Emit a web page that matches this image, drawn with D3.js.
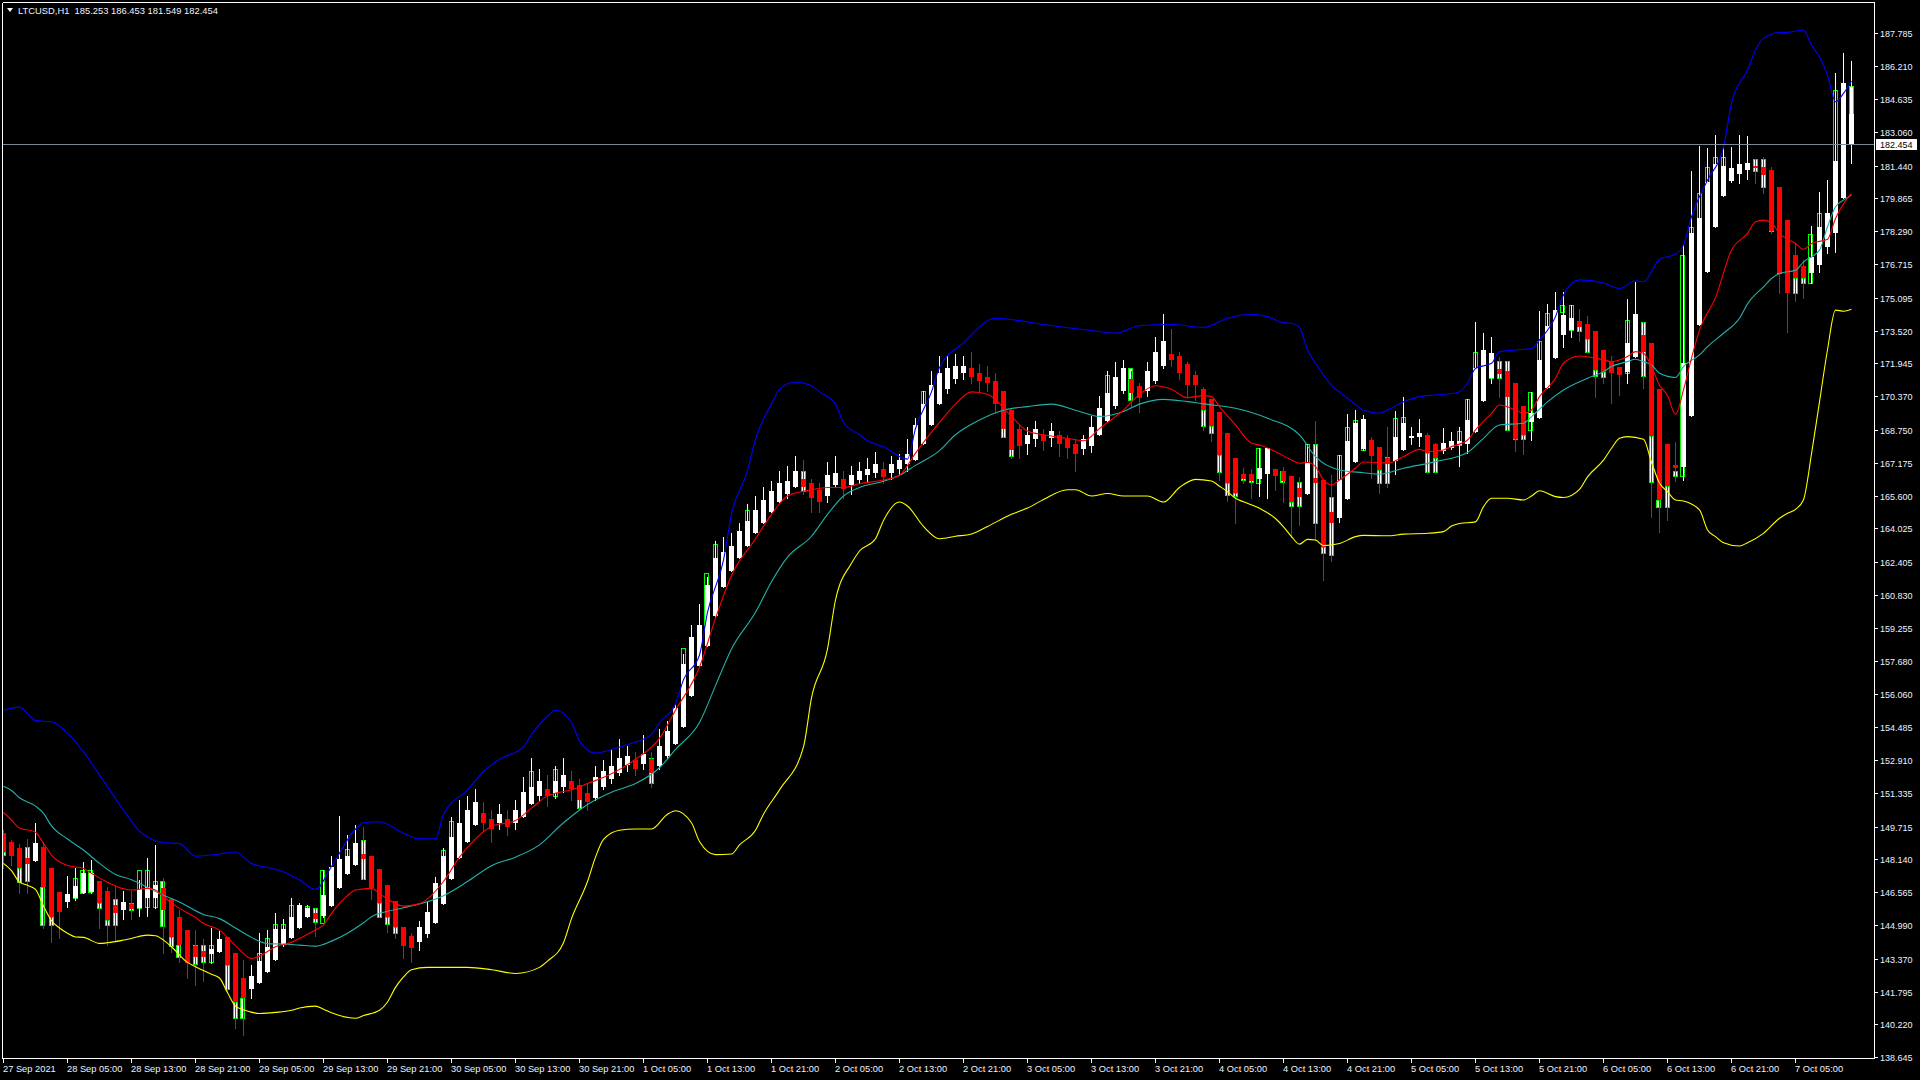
<!DOCTYPE html>
<html><head><meta charset="utf-8">
<script src="https://cdn.jsdelivr.net/npm/d3@7/dist/d3.min.js"></script>
<style>html,body{margin:0;padding:0;background:#000;overflow:hidden}</style>
</head><body>
<svg id="c" width="1920" height="1080" xmlns="http://www.w3.org/2000/svg"></svg>
<script>
// ---------- DATA ----------
const symbolTitle = "LTCUSD,H1";
const lastBarValues = ["185.253", "186.453", "181.549", "182.454"];
const currentPrice = 182.454;

const yTickLabels = [187.785,186.210,184.635,183.060,181.440,179.865,178.290,176.715,175.095,173.520,171.945,170.370,168.750,167.175,165.600,164.025,162.405,160.830,159.255,157.680,156.060,154.485,152.910,151.335,149.715,148.140,146.565,144.990,143.370,141.795,140.220,138.645];

const xTickLabels = ["27 Sep 2021","28 Sep 05:00","28 Sep 13:00","28 Sep 21:00","29 Sep 05:00","29 Sep 13:00","29 Sep 21:00","30 Sep 05:00","30 Sep 13:00","30 Sep 21:00","1 Oct 05:00","1 Oct 13:00","1 Oct 21:00","2 Oct 05:00","2 Oct 13:00","2 Oct 21:00","3 Oct 05:00","3 Oct 13:00","3 Oct 21:00","4 Oct 05:00","4 Oct 13:00","4 Oct 21:00","5 Oct 05:00","5 Oct 13:00","5 Oct 21:00","6 Oct 05:00","6 Oct 13:00","6 Oct 21:00","7 Oct 05:00"];

// Heiken Ashi bars: [open, high, low, close], one per hour (bar 0 = 27 Sep 21:00)
const haOHLC = [
[149.39,149.55,147.71,148.51],[148.99,149.07,147.87,148.30],[148.69,148.88,146.54,147.71],[148.22,149.10,146.54,147.92],
[148.08,149.87,148.08,148.94],[148.75,148.99,144.83,146.83],[147.73,147.73,144.19,145.36],[146.57,146.57,144.38,145.63],
[146.09,147.34,145.87,146.48],[146.27,147.71,146.19,146.86],[146.54,148.03,146.51,147.50],[146.59,148.11,146.51,147.50],
[147.10,147.10,144.86,146.03],[146.62,146.83,144.03,145.23],[145.93,146.86,144.27,145.55],[145.71,146.64,145.28,146.11],
[146.00,146.62,145.26,145.74],[145.82,147.15,145.42,146.70],[146.30,148.19,145.42,146.80],[146.30,148.83,145.79,146.91],
[146.78,147.26,143.63,145.71],[146.22,146.22,143.71,144.43],[145.39,145.71,143.23,144.03],[144.75,144.75,142.46,143.18],
[144.00,144.75,142.11,143.47],[143.77,144.30,142.32,143.44],[143.60,144.86,143.15,143.82],[143.69,144.70,143.69,144.32],
[144.43,144.43,141.71,143.07],[143.63,143.63,140.03,141.31],[142.45,143.31,139.71,141.47],[141.92,143.07,141.47,142.54],
[142.22,144.59,142.22,143.26],[142.75,144.75,142.75,143.95],[143.31,145.58,143.31,144.80],[144.03,145.26,144.00,144.81],
[144.38,146.27,144.38,145.39],[144.86,146.06,144.86,145.93],[145.39,145.95,145.39,145.81],[145.58,145.81,144.48,145.26],
[145.42,147.63,145.39,146.43],[145.90,148.30,145.90,147.76],[146.77,150.24,146.77,148.16],[147.45,149.31,147.45,148.30],
[147.87,149.79,147.87,148.94],[148.40,149.71,147.20,148.14],[148.30,148.30,146.22,146.75],[147.68,147.68,145.39,146.06],
[146.91,146.91,144.67,145.39],[146.14,146.14,144.38,144.91],
[144.90,144.90,143.40,144.00],[144.45,144.60,143.20,143.90],[144.20,145.20,143.80,144.90],[144.55,146.10,144.40,145.60],
[145.10,147.30,145.10,147.00],[146.00,148.70,146.00,148.30],[147.20,150.20,147.20,149.20],[148.20,151.00,148.20,149.90],
[149.00,151.20,149.00,150.50],[149.80,151.50,149.80,150.90],[150.35,150.90,149.50,149.90],[150.10,150.50,149.00,149.60],
[149.90,150.80,149.60,150.30],[150.10,150.50,149.30,149.70],[149.90,151.00,149.60,150.50],[150.20,152.10,150.20,151.40],
[150.80,153.00,150.80,151.60],[151.20,152.50,151.00,151.90],[151.50,152.20,150.70,151.20],[151.35,152.60,151.10,151.90],
[151.60,153.00,151.40,152.20],[151.90,152.40,151.00,151.50],[151.70,152.00,150.50,151.00],[151.35,151.80,150.50,150.90],
[151.10,152.60,151.00,152.10],[151.60,152.90,151.50,152.40],[152.00,153.40,151.80,152.60],[152.30,153.90,152.20,153.00],
[152.65,153.60,152.40,153.10],[152.90,153.30,152.20,152.50],[152.70,154.10,152.50,153.20],[152.95,153.30,151.60,152.30],
[152.60,154.40,152.50,153.60],[153.10,154.80,153.00,154.30],[153.70,155.60,153.70,155.40],[154.50,158.00,154.50,157.50],
[156.00,159.40,156.00,158.80],[157.40,160.40,157.40,159.40],[158.40,161.70,158.40,161.30],[159.80,163.40,159.80,162.60],
[161.20,163.60,161.20,162.90],[162.00,163.80,162.00,163.20],[162.60,164.30,162.60,163.90],[163.20,165.20,163.20,164.40],
[163.80,165.60,163.80,164.90],[164.30,166.00,164.30,165.40],[164.80,166.30,164.80,165.80],[165.30,166.80,165.30,166.20],
[165.70,167.00,165.50,166.30],[166.00,167.50,166.00,166.80],[166.40,167.30,165.70,166.00],[166.20,166.40,164.80,165.50],
[165.85,166.20,164.80,165.30],[165.60,167.20,165.30,166.60],[166.10,167.50,166.00,166.70],[166.40,166.80,165.50,165.90],
[166.10,167.00,165.70,166.60],[166.35,167.20,166.20,166.80],[166.60,167.40,166.30,166.90],[166.70,167.70,166.50,167.10],
[166.90,167.20,166.20,166.50],[166.70,167.50,166.40,167.10],[166.90,167.60,166.60,167.30],[167.10,168.30,166.80,167.60],
[167.30,169.30,167.30,169.00],[168.10,170.60,168.10,170.00],[169.00,171.60,169.00,170.90],[170.00,172.30,170.00,171.50],
[170.70,172.30,170.50,171.70],[171.20,172.40,171.00,171.80],[171.50,172.30,171.20,171.80],[171.70,172.50,171.00,171.30],
[171.50,171.90,170.60,171.10],[171.30,171.80,170.60,171.00],[171.10,171.50,169.60,170.00],[170.60,170.60,168.40,168.80],
[169.70,169.80,167.40,167.80],[168.80,169.00,167.40,168.00],[168.10,168.90,167.60,168.50],[168.30,169.20,168.00,168.80],
[168.50,168.80,167.80,168.20],[168.35,169.10,168.00,168.70],[168.50,168.70,167.50,168.10],[168.30,168.50,167.40,167.90],
[168.10,168.30,166.80,167.60],[167.85,168.50,167.60,168.30],[168.00,169.40,167.70,168.90],[168.50,170.40,168.50,169.80],
[169.20,171.60,169.20,170.50],[169.90,172.00,169.80,171.30],[170.60,172.10,170.50,171.70],[171.20,171.60,169.90,170.50],
[170.85,171.00,169.60,170.30],[170.60,172.00,170.40,171.60],[171.10,173.20,171.00,172.50],[171.80,174.30,171.70,173.00],
[172.40,173.60,171.80,172.10],[172.30,172.50,171.20,171.50],[171.90,172.00,170.40,170.90],[171.40,171.60,170.20,170.90],
[170.70,170.83,168.75,169.71],[170.23,170.23,168.23,168.94],[169.61,169.61,166.35,167.55],[168.60,168.60,165.35,166.22],
[167.40,167.40,164.30,165.71],[166.63,166.91,166.19,166.38],[166.63,166.87,165.50,166.30],[166.38,167.87,165.58,166.92],
[166.66,167.87,165.50,167.87],[166.87,166.87,165.87,166.55],[166.76,166.99,165.31,166.30],[166.54,166.54,163.63,165.27],
[165.98,166.51,164.19,165.51],[165.67,168.07,165.67,167.15],[166.44,169.18,163.47,166.19],[166.35,166.35,161.54,163.14],
[164.79,166.58,162.47,164.27],[164.54,167.55,164.35,166.35],[165.43,169.50,165.43,168.23],[167.23,169.71,167.23,169.07],
[167.83,169.47,167.79,169.26],[168.26,168.43,166.46,167.51],[167.91,167.95,165.74,166.83],[167.39,168.90,166.03,167.11],
[167.27,169.66,166.63,168.43],[167.79,170.35,167.79,169.10],[168.38,168.90,168.07,168.46],[168.43,169.26,167.98,168.62],
[168.50,168.59,166.75,167.63],[168.07,168.11,166.75,167.40],[167.74,168.83,167.66,168.14],[167.88,168.66,167.83,168.22],
[168.03,168.90,167.02,168.22],[168.07,170.22,167.63,169.23],[168.66,173.94,168.66,171.71],[170.14,173.42,170.14,172.59],
[171.23,173.19,170.99,172.43],[171.67,172.23,170.35,171.43],[171.58,172.06,168.75,170.35],[170.99,170.99,167.75,168.30],
[169.90,169.90,167.59,168.49],[169.14,170.55,168.26,169.58],[169.34,174.46,169.34,172.11],[170.74,174.78,170.74,173.74],
[172.22,175.37,172.22,174.51],[173.30,175.37,172.75,174.27],[173.55,174.75,173.23,174.11],[173.98,174.54,173.03,173.70],
[173.83,174.22,172.47,173.10],[173.50,173.50,170.35,171.63],[172.58,172.58,170.99,171.55],[172.06,172.30,170.06,171.50],
[171.76,171.76,170.43,171.39],[171.55,175.02,171.00,172.92],[172.25,175.87,172.25,174.31],[173.31,173.94,170.75,172.50],
[172.94,172.94,164.59,168.46],[170.71,170.71,163.87,165.39],[168.08,168.08,164.43,166.07],[167.07,168.19,166.30,166.94],
[166.99,177.67,166.35,171.98],[169.42,181.19,169.42,178.19],[173.78,182.38,173.78,178.91],[176.34,182.30,176.34,180.63],
[178.50,182.90,178.50,181.51],[179.99,182.30,179.99,181.43],[180.70,182.34,180.63,181.32],[181.02,182.90,180.61,181.51],
[181.22,182.86,180.81,181.57],[181.43,181.74,180.61,181.33],[181.38,181.86,180.13,180.98],[181.22,181.38,178.19,178.31],
[180.42,180.42,175.34,176.27],[178.83,178.83,173.46,175.34],[177.15,177.70,174.95,176.06],[176.62,176.90,175.07,176.03],
[176.27,178.54,175.82,177.04],[176.66,180.15,176.34,178.47],[177.54,180.75,177.26,179.15],[178.22,185.86,177.30,181.67],
[179.90,186.83,179.90,185.41],[182.47,186.45,181.55,183.91]
];

// Price candle bodies visible behind the Heiken Ashi bars: [bar, open, close]
const priceBodies = [
[0,148.51,148.35],[2,147.71,147.04],[3,148.75,147.12],[5,146.83,144.99],[6,145.36,144.99],[9,146.27,147.23],
[10,146.54,147.63],[11,146.59,147.63],[12,146.03,145.82],[13,145.23,144.99],[14,146.24,144.99],[16,146.03,145.71],
[17,145.82,147.63],[18,145.84,147.63],[19,145.84,147.10],[20,147.10,144.96],[21,144.43,144.00],[22,144.03,143.44],
[24,144.03,143.12],[25,144.03,143.20],[26,143.20,144.03],[28,143.07,141.90],[29,141.31,140.51],[30,141.47,140.51],
[32,143.26,143.63],[33,143.95,144.35],[34,144.80,145.04],[35,144.81,145.04],[36,145.39,145.95],[38,145.81,145.90],
[39,145.81,145.15],[40,145.10,147.63],[43,148.30,148.64],[45,149.07,147.20],[47,146.06,145.39],[48,145.39,145.04],
[49,144.91,144.62],
[55,147.00,148.60],[56,148.30,150.00],[66,151.40,152.40],[69,151.20,152.50],[72,151.50,150.60],[81,153.00,151.80],
[85,155.40,158.30],[88,159.40,161.90],[89,161.30,163.30],[93,163.90,164.90],[100,166.80,165.80],[115,169.00,170.60],
[125,170.00,168.40],[126,168.80,167.50],[138,169.80,171.40],[141,171.70,170.20],
[150,169.71,168.95],[151,168.94,168.62],[152,167.55,166.71],[153,166.22,165.63],[154,165.71,165.59],[155,166.66,166.35],
[156,166.66,166.23],[157,166.19,167.87],[160,166.76,166.27],[161,165.27,165.10],[162,166.23,165.10],[163,167.15,168.07],
[164,168.07,164.30],[165,163.14,162.86],[166,165.51,162.76],[167,166.35,167.55],[168,168.23,168.87],[169,169.07,169.23],
[170,167.79,169.26],[172,166.83,166.19],[173,167.47,166.19],[174,168.43,169.30],[175,169.10,169.35],[178,167.63,166.75],
[179,167.40,166.75],[182,168.03,168.70],[183,169.23,170.22],[184,171.71,172.47],[186,171.23,172.43],[187,172.06,171.23],
[188,172.06,168.75],[189,168.75,168.30],[190,168.49,168.33],[191,168.75,170.55],[192,172.11,173.02],[193,173.74,174.35],
[195,174.43,174.75],[196,173.55,174.75],[197,173.98,173.51],[198,173.10,172.47],[199,171.63,171.34],[200,171.55,171.30],
[203,171.48,174.03],[205,173.94,171.35],[206,168.46,166.27],[207,165.39,165.05],[208,166.07,165.05],[209,166.78,166.55],
[210,166.55,177.15],[211,178.19,178.47],[212,178.91,180.11],[213,180.63,181.38],[214,181.51,181.86],[215,181.43,181.86],
[219,181.74,181.19],[220,181.74,180.39],[221,179.54,178.31],[222,177.23,176.27],[224,176.06,175.34],[225,176.03,175.82],
[226,175.82,178.15],[227,178.47,179.18],[229,181.67,185.06],[231,185.253,182.454]
];

// Bollinger upper band (blue): [bar, value]
const upperBand = [[0,155.30],[2,155.45],[4,154.80],[6,154.75],[8,154.20],[10,153.30],[12,152.20],[15,150.50],[17,149.50],[20,148.95],[22,148.90],[24,148.30],[27,148.40],[29,148.50],[31,147.95],[33,147.75],[35,147.55],[37,147.15],[39,146.70],[41,147.80],[44,149.60],[45,149.90],[47,149.95],[50,149.40],[52,149.13],[54,149.13],[55,150.30],[58,151.48],[60,152.36],[62,152.95],[65,153.54],[66,154.13],[68,155.01],[69,155.30],[71,154.71],[72,153.83],[74,153.24],[76,153.42],[78,153.66],[81,154.13],[82,154.71],[84,155.60],[85,156.77],[87,157.95],[88,160.00],[90,162.50],[91,164.70],[93,166.80],[94,168.30],[96,170.00],[97,170.70],[99,171.05],[101,170.87],[102,170.58],[104,169.99],[105,169.11],[107,168.52],[108,168.23],[110,167.94],[113,167.35],[114,168.82],[116,170.58],[117,171.75],[120,172.93],[124,174.11],[130,173.81],[136,173.52],[139,173.40],[142,173.75],[146,173.81],[150,173.67],[153,174.11],[156,174.30],[158,174.19],[160,173.90],[161,173.87],[162,173.67],[163,172.59],[164,171.95],[166,170.90],[168,170.27],[170,169.71],[172,169.55],[173,169.71],[175,170.10],[177,170.35],[179,170.43],[181,170.50],[182,170.58],[183,170.99],[184,171.70],[186,171.95],[187,172.50],[189,172.59],[191,172.66],[192,173.07],[194,174.19],[195,175.23],[197,175.95],[200,175.80],[202,175.54],[204,175.91],[205,175.86],[207,176.94],[209,177.19],[210,177.62],[211,178.98],[213,180.74],[215,182.34],[216,184.42],[218,186.02],[219,186.98],[220,187.54],[222,187.82],[223,187.83],[225,187.94],[226,187.22],[227,186.66],[228,185.78],[229,184.50],[230,184.90],[231,185.50]];

// Bollinger lower band (yellow)
const lowerBand = [[0,147.95],[1,147.60],[2,147.05],[3,146.90],[4,146.70],[5,145.90],[6,145.20],[7,144.85],[8,144.60],[9,144.42],[10,144.40],[12,144.11],[13,144.14],[15,144.27],[16,144.35],[18,144.51],[19,144.48],[20,144.27],[21,143.95],[23,143.20],[24,142.99],[26,142.63],[27,142.45],[28,141.75],[29,141.10],[30,140.93],[32,140.75],[34,140.80],[36,140.90],[37,141.01],[39,141.10],[40,140.95],[41,140.78],[44,140.52],[45,140.65],[47,140.90],[48,141.30],[49,142.00],[50,142.50],[51,142.85],[53,142.96],[58,142.96],[61,142.85],[64,142.67],[67,142.96],[68,143.26],[70,144.14],[71,145.30],[73,147.08],[74,148.25],[75,149.10],[77,149.54],[79,149.60],[81,149.60],[83,150.31],[84,150.48],[86,149.90],[87,149.00],[89,148.37],[91,148.40],[92,148.84],[94,149.54],[95,150.31],[97,151.48],[100,153.54],[101,155.89],[103,158.24],[104,160.59],[106,162.35],[107,162.94],[109,163.53],[110,164.41],[112,165.29],[113,165.10],[115,164.12],[117,163.53],[119,163.65],[121,163.76],[123,164.12],[126,164.70],[128,165.00],[130,165.41],[133,165.88],[134,165.88],[136,165.58],[138,165.70],[140,165.58],[143,165.58],[145,165.29],[147,165.99],[149,166.38],[151,166.30],[152,166.05],[153,165.79],[154,165.47],[155,165.30],[157,164.99],[159,164.50],[160,164.10],[161,163.63],[162,163.27],[163,163.50],[164,163.47],[165,163.20],[167,163.30],[169,163.63],[170,163.69],[173,163.67],[175,163.75],[178,163.79],[180,163.87],[181,164.14],[182,164.26],[184,164.34],[185,165.07],[186,165.47],[188,165.47],[190,165.39],[191,165.58],[192,165.83],[194,165.55],[195,165.51],[197,165.90],[198,166.50],[200,167.30],[201,167.87],[202,168.35],[203,168.43],[205,168.30],[206,167.20],[207,166.20],[208,165.79],[209,165.39],[210,165.34],[212,164.91],[213,163.95],[214,163.63],[215,163.34],[217,163.18],[218,163.34],[220,163.79],[222,164.51],[223,164.75],[224,164.94],[225,165.40],[226,167.60],[227,170.10],[228,172.60],[229,174.50],[230,174.45],[231,174.54]];

// Bollinger middle band (teal)
const middleBand = [[0,151.65],[1,151.45],[2,151.10],[4,150.70],[5,150.35],[6,149.75],[8,149.12],[10,148.59],[12,147.95],[14,147.42],[16,147.17],[18,146.80],[20,146.42],[22,146.10],[25,145.50],[27,145.30],[29,144.85],[31,144.40],[33,144.10],[35,144.08],[37,144.03],[39,143.98],[41,144.22],[43,144.60],[45,145.10],[46,145.39],[48,145.65],[50,145.82],[55,146.40],[58,147.08],[61,147.84],[64,148.25],[67,148.84],[70,149.90],[73,150.78],[76,151.37],[79,151.78],[82,152.54],[84,153.42],[87,154.71],[89,156.48],[91,158.24],[94,160.00],[96,161.47],[98,162.65],[101,163.65],[103,164.70],[105,165.58],[107,165.99],[110,166.29],[112,166.58],[114,167.05],[117,167.76],[119,168.52],[122,169.23],[125,169.70],[128,169.87],[131,169.99],[134,169.70],[137,169.40],[140,169.64],[142,169.99],[145,170.22],[148,170.11],[150,170.00],[154,169.79],[158,169.31],[162,168.51],[164,167.47],[167,166.83],[170,166.70],[172,166.63],[175,166.91],[179,167.23],[183,167.67],[185,168.35],[187,168.99],[190,169.07],[191,169.39],[193,170.10],[195,170.67],[198,171.23],[200,171.55],[201,171.79],[203,172.03],[204,172.14],[205,172.03],[206,171.87],[207,171.47],[209,171.27],[210,171.79],[212,172.35],[213,172.75],[215,173.39],[217,174.11],[218,174.80],[220,175.62],[221,176.02],[222,176.26],[224,176.42],[225,176.82],[227,177.38],[228,178.50],[229,179.46],[230,179.78],[231,180.02]];

// Fast moving average (red)
const fastMA = [[0,150.40],[1,150.03],[2,149.65],[4,149.45],[5,148.91],[6,148.35],[8,147.85],[10,147.71],[11,147.47],[13,147.05],[15,146.73],[16,146.67],[18,146.75],[19,146.67],[20,146.35],[22,145.79],[24,145.35],[25,145.07],[27,144.75],[29,144.00],[31,143.39],[32,143.50],[34,143.95],[36,144.16],[37,144.35],[39,144.75],[40,145.00],[41,145.55],[43,146.40],[44,146.67],[46,146.75],[47,146.50],[50,145.90],[52,146.02],[55,147.08],[57,148.25],[59,149.13],[61,149.72],[64,150.01],[66,150.60],[68,151.19],[71,151.48],[73,151.78],[76,152.25],[79,152.95],[82,153.95],[84,155.30],[87,157.36],[89,159.71],[91,161.77],[94,163.53],[96,164.70],[98,165.58],[101,165.88],[103,165.99],[105,165.99],[107,166.17],[110,166.35],[112,166.58],[114,167.64],[117,169.11],[119,169.99],[121,170.58],[123,170.46],[126,169.40],[128,168.70],[130,168.52],[133,168.35],[135,168.23],[137,168.82],[140,169.70],[142,170.46],[144,170.87],[146,170.70],[148,170.30],[150,170.40],[151,170.35],[152,169.87],[154,168.99],[156,168.11],[157,168.03],[159,167.71],[161,167.31],[162,167.15],[163,167.19],[164,166.99],[165,166.35],[166,166.11],[167,166.35],[169,166.91],[170,167.21],[172,167.19],[173,167.15],[175,167.47],[177,167.82],[178,167.71],[180,167.79],[181,167.95],[183,168.27],[184,168.75],[186,169.55],[187,169.95],[189,169.71],[190,169.55],[191,169.71],[192,170.35],[194,171.23],[195,171.95],[197,172.30],[200,172.11],[201,172.03],[203,172.27],[204,172.51],[205,172.43],[206,171.79],[207,170.90],[208,170.40],[209,169.50],[210,170.67],[211,172.19],[212,173.55],[214,175.10],[216,177.38],[218,178.18],[219,178.74],[220,178.82],[221,178.69],[222,178.18],[224,177.70],[225,177.42],[226,177.70],[228,177.90],[229,178.90],[230,179.60],[231,180.10]];

// ---------- DRAW ----------
const svg = d3.select("#c");
const W = 1920, H = 1080;
const plotL = 2.5, plotR = 1874.5, plotT = 2.5, plotB = 1058.5;
const FONT = "'Liberation Sans', Arial, sans-serif";

svg.append("rect").attr("width", W).attr("height", H).attr("fill", "#000");

const x = d3.scaleLinear().domain([0, 231]).range([3.5, 3.5 + 8 * 231]);
const y = d3.scaleLinear().domain([138.645, 187.785]).range([1057.3, 33.3]);

svg.append("defs").append("clipPath").attr("id", "plotClip")
  .append("rect").attr("x", 3).attr("y", 3).attr("width", plotR - 3).attr("height", plotB - 3);

const plot = svg.append("g").attr("clip-path", "url(#plotClip)");

// price candle bodies (green outlined)
plot.append("g").selectAll("rect").data(priceBodies).join("rect")
  .attr("x", d => Math.round(x(d[0])) - 2.5)
  .attr("y", d => Math.round(y(Math.max(d[1], d[2]))) + 0.5)
  .attr("width", 4)
  .attr("height", d => Math.max(1, Math.round(y(Math.min(d[1], d[2]))) - Math.round(y(Math.max(d[1], d[2])))))
  .attr("fill", d => d[1] > d[2] ? "#ffffff" : "#000000")
  .attr("stroke", "#00ff00").attr("stroke-width", 1)
  .attr("shape-rendering", "crispEdges");

const haColor = d => d[3] >= d[0] ? "#ffffff" : "#ff0000";
const haIdx = haOHLC.map((d, i) => ({ i, d }));

// HA wicks
plot.append("g").selectAll("line").data(haIdx).join("line")
  .attr("x1", o => Math.floor(x(o.i)) + 0.5).attr("x2", o => Math.floor(x(o.i)) + 0.5)
  .attr("y1", o => Math.round(y(o.d[1]))).attr("y2", o => Math.round(y(o.d[2])) + 1)
  .attr("stroke", o => haColor(o.d)).attr("stroke-width", 1)
  .attr("shape-rendering", "crispEdges");

// HA bodies
plot.append("g").selectAll("rect").data(haIdx).join("rect")
  .attr("x", o => Math.floor(x(o.i)) - 2)
  .attr("y", o => Math.round(y(Math.max(o.d[0], o.d[3]))))
  .attr("width", 5)
  .attr("height", o => Math.max(2, Math.round(y(Math.min(o.d[0], o.d[3]))) - Math.round(y(Math.max(o.d[0], o.d[3])))))
  .attr("fill", o => haColor(o.d))
  .attr("shape-rendering", "crispEdges");

// indicator lines
const line = d3.line().x(d => x(d[0])).y(d => y(d[1])).curve(d3.curveMonotoneX);
[[upperBand, "#0000ff"], [lowerBand, "#ffff00"], [middleBand, "#20b2aa"], [fastMA, "#ff0000"]].forEach(([data, col]) => {
  plot.append("path").datum(data).attr("d", line)
    .attr("fill", "none").attr("stroke", col).attr("stroke-width", 1.1);
});

// current price line
plot.append("line").attr("x1", 3).attr("x2", plotR)
  .attr("y1", Math.round(y(currentPrice)) + 0.5).attr("y2", Math.round(y(currentPrice)) + 0.5)
  .attr("stroke", "#778899").attr("stroke-width", 1).attr("shape-rendering", "crispEdges");

// frame
const frame = svg.append("g").attr("stroke", "#ffffff").attr("stroke-width", 1).attr("shape-rendering", "crispEdges");
frame.append("line").attr("x1", plotL).attr("x2", plotR).attr("y1", plotT).attr("y2", plotT);
frame.append("line").attr("x1", plotL).attr("x2", plotR).attr("y1", plotB).attr("y2", plotB);
frame.append("line").attr("x1", plotL).attr("x2", plotL).attr("y1", plotT).attr("y2", plotB);
frame.append("line").attr("x1", plotR).attr("x2", plotR).attr("y1", plotT).attr("y2", plotB);

// y axis (right)
const yAx = svg.append("g");
yTickLabels.forEach(v => {
  const py = Math.round(y(v)) + 0.5;
  yAx.append("line").attr("x1", plotR).attr("x2", plotR + 3.5).attr("y1", py).attr("y2", py)
    .attr("stroke", "#fff").attr("shape-rendering", "crispEdges");
  yAx.append("text").attr("x", 1880).attr("y", py + 3.3).text(v.toFixed(3))
    .attr("fill", "#eef2ff").attr("font-family", FONT).attr("font-size", "9px");
});
// current price label
const cpY = Math.round(y(currentPrice)) + 0.5;
yAx.append("rect").attr("x", 1876).attr("y", cpY - 5.5).attr("width", 41).attr("height", 11)
  .attr("fill", "#ffffff").attr("shape-rendering", "crispEdges");
yAx.append("text").attr("x", 1880).attr("y", cpY + 3.3).text(currentPrice.toFixed(3))
  .attr("fill", "#000").attr("font-family", FONT).attr("font-size", "9px");

// x axis (bottom)
const xAx = svg.append("g");
xTickLabels.forEach((lab, k) => {
  const px = Math.floor(x(8 * k)) + 0.5;
  xAx.append("line").attr("x1", px).attr("x2", px).attr("y1", plotB).attr("y2", plotB + 4.5)
    .attr("stroke", "#fff").attr("shape-rendering", "crispEdges");
  xAx.append("text").attr("x", px - 0.5).attr("y", 1072).text(lab)
    .attr("fill", "#eef2ff").attr("font-family", FONT).attr("font-size", "9.3px");
});

// title
svg.append("path").attr("d", "M7,8 L13,8 L10,12 Z").attr("fill", "#ffffff");
svg.append("text").attr("x", 18).attr("y", 14).attr("xml:space", "preserve")
  .style("white-space", "pre")
  .text(symbolTitle + "  " + lastBarValues.join(" "))
  .attr("fill", "#eef2ff").attr("font-family", FONT).attr("font-size", "9.4px");
</script>
</body></html>
